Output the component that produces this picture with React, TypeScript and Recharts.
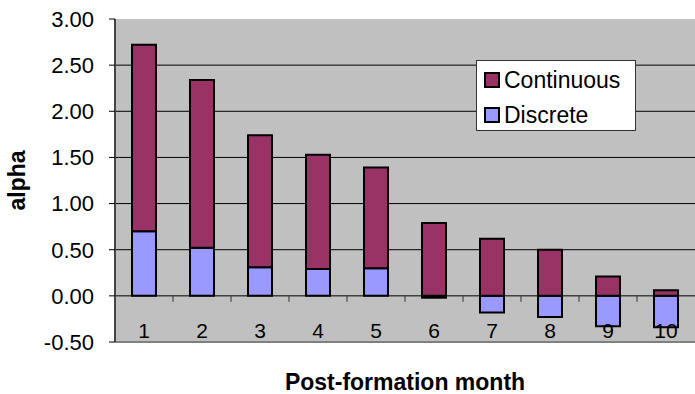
import React from 'react';
import { BarChart, Bar, XAxis, YAxis, CartesianGrid, Legend, ReferenceLine } from 'recharts';

const months = ['1', '2', '3', '4', '5', '6', '7', '8', '9', '10'];
const discrete = [0.70, 0.52, 0.31, 0.29, 0.30, -0.02, -0.18, -0.23, -0.33, -0.34];
const continuous = [2.02, 1.82, 1.43, 1.24, 1.09, 0.79, 0.62, 0.50, 0.21, 0.06];
const yTicks = [-0.5, 0, 0.5, 1, 1.5, 2, 2.5, 3];
const gridValues = [0, 0.5, 1, 1.5, 2, 2.5];
const seriesNames = ['Continuous', 'Discrete'];
const seriesColors = ['#993366', '#9999FF'];

const data = months.map((m, i) => ({ month: m, Discrete: discrete[i], Continuous: continuous[i] }));

const W = 695;
const H = 394;
const PLOT_LEFT = 115;
const PLOT_TOP = 19;
const PLOT_BOTTOM = 342;
const Y_MIN = -0.5;
const Y_MAX = 3;
const FONT = 'Liberation Sans, Arial, sans-serif';

const XTick = (props: any) => {
  const { x, payload, index } = props;
  const zeroY = PLOT_TOP + ((PLOT_BOTTOM - PLOT_TOP) * (Y_MAX - 0)) / (Y_MAX - Y_MIN);
  const band = (W - PLOT_LEFT) / months.length;
  return (
    <g>
      {index > 0 && (
        <line x1={x - band / 2} x2={x - band / 2} y1={zeroY} y2={zeroY + 6} stroke="#333" strokeWidth={1} />
      )}
      <text x={x} y={PLOT_BOTTOM - 12} textAnchor="middle" dominantBaseline="central" fontFamily={FONT} fontSize={21} fill="#000">
        {payload.value}
      </text>
    </g>
  );
};

const LegendBox = () => (
  <div style={{ width: 158, height: 69, background: '#fff', border: '1px solid #333', position: 'relative', fontFamily: FONT }}>
    {seriesNames.map((n, i) => (
      <div key={n} style={{ position: 'absolute', left: 7, top: 11 + i * 35, height: 16, display: 'flex', alignItems: 'center' }}>
        <div style={{ width: 12, height: 12, background: seriesColors[i], border: '2px solid #000' }} />
        <span style={{ marginLeft: 4, fontSize: 23, lineHeight: '16px', color: '#000', whiteSpace: 'nowrap' }}>{n}</span>
      </div>
    ))}
  </div>
);

export default function App() {
  return (
    <div style={{ position: 'absolute', left: 0, top: 0, width: W, height: H, background: '#fff' }}>
      <BarChart
        width={W}
        height={H}
        data={data}
        margin={{ top: PLOT_TOP, right: 0, bottom: 0, left: 0 }}
        stackOffset="sign"
        barSize={24}
      >
        <CartesianGrid
          horizontal
          vertical={false}
          horizontalValues={gridValues}
          stroke="#000"
          strokeWidth={1}
          fill="#C0C0C0"
          fillOpacity={1}
        />
        <XAxis
          dataKey="month"
          height={H - PLOT_BOTTOM}
          axisLine={false}
          tickLine={false}
          tickSize={0}
          tick={<XTick />}
          interval={0}
          label={{
            content: () => (
              <text x={(PLOT_LEFT + W) / 2} y={382} textAnchor="middle" dominantBaseline="central" fontFamily={FONT} fontWeight="bold" fontSize={23} fill="#000">
                Post-formation month
              </text>
            ),
          }}
        />
        <YAxis
          width={PLOT_LEFT}
          domain={[Y_MIN, Y_MAX]}
          ticks={yTicks}
          interval={0}
          allowDataOverflow
          tickFormatter={(v: number) => v.toFixed(2)}
          axisLine={{ stroke: '#444', strokeWidth: 2 }}
          tickLine={{ stroke: '#000' }}
          tickSize={6}
          tickMargin={15}
          tick={{ fontFamily: FONT, fontSize: 22, fill: '#000' }}
          label={{
            content: () => (
              <text
                x={17}
                y={(PLOT_TOP + PLOT_BOTTOM) / 2}
                textAnchor="middle"
                dominantBaseline="central"
                fontFamily={FONT}
                fontWeight="bold"
                fontSize={23}
                fill="#000"
                transform={`rotate(-90 17 ${(PLOT_TOP + PLOT_BOTTOM) / 2})`}
              >
                alpha
              </text>
            ),
          }}
        />
        <ReferenceLine y={Y_MIN} stroke="#808080" strokeWidth={2} />
        <Bar dataKey="Discrete" stackId="a" fill={seriesColors[1]} stroke="#000" strokeWidth={2} isAnimationActive={false} />
        <Bar dataKey="Continuous" stackId="a" fill={seriesColors[0]} stroke="#000" strokeWidth={2} isAnimationActive={false} />
        <Legend
          layout="vertical"
          align="center"
          verticalAlign="middle"
          wrapperStyle={{ left: 476, top: 60, width: 160 }}
          content={() => <LegendBox />}
        />
      </BarChart>
    </div>
  );
}
